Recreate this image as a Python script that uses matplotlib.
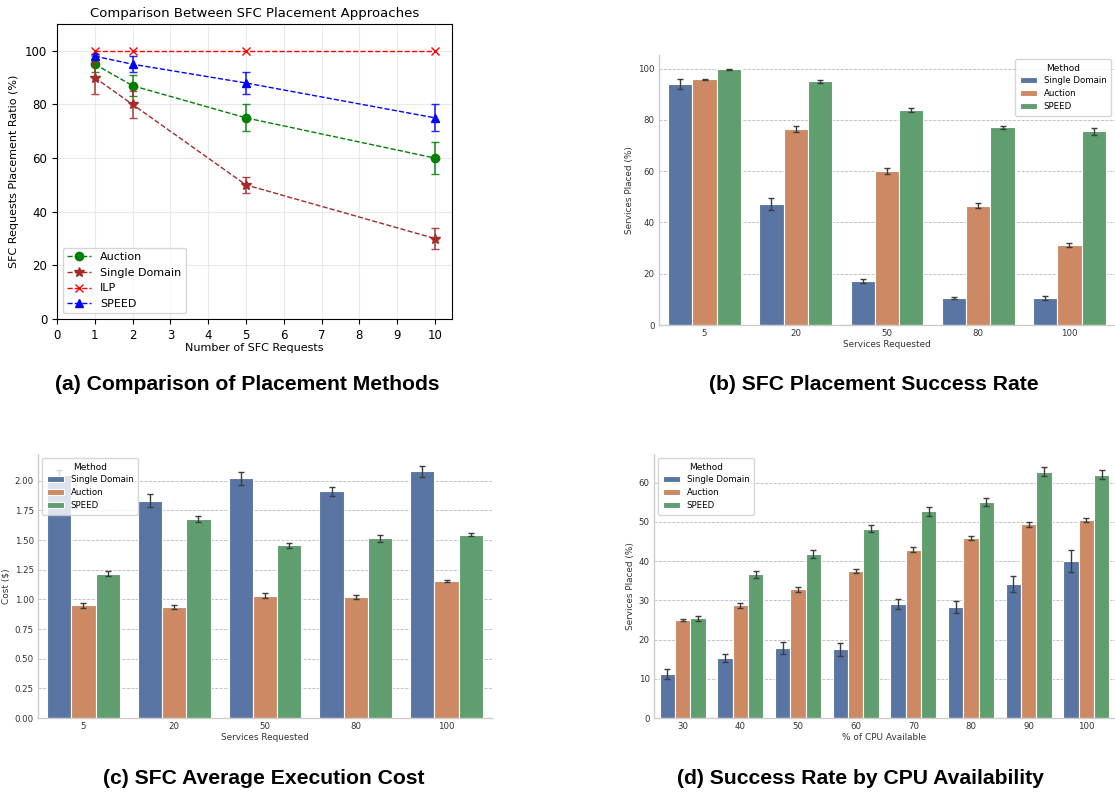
import matplotlib
matplotlib.use("Agg")
import matplotlib.pyplot as plt
import numpy as np

W, H = 1115, 794

# ---- (a) line plot data
req_counts = [1, 2, 5, 10]
auction_ratio = [95, 87, 75, 60]
auction_ratio_err = [3, 4, 5, 6]
single_ratio = [90, 80, 50, 30]
single_ratio_err = [6, 5, 3, 4]
ilp_ratio = [100, 100, 100, 100]
speed_ratio = [98, 95, 88, 75]
speed_ratio_err = [1, 3, 4, 5]

# ---- (b) success rate
methods = ["Single Domain", "Auction", "SPEED"]
services = ["5", "20", "50", "80", "100"]
succ_single = [94, 47.2, 17.2, 10.6, 10.5]
succ_auction = [95.8, 76.5, 59.9, 46.5, 31.2]
succ_speed = [99.8, 95, 83.8, 77.1, 75.5]
succ_single_err = [1.8, 2.2, 0.7, 0.4, 0.7]
succ_auction_err = [0.3, 1.3, 1.2, 1.0, 0.8]
succ_speed_err = [0.2, 0.5, 0.7, 0.7, 1.4]

# ---- (c) cost
cost_single = [2.05, 1.83, 2.02, 1.91, 2.08]
cost_auction = [0.95, 0.935, 1.03, 1.02, 1.155]
cost_speed = [1.215, 1.675, 1.455, 1.515, 1.545]
cost_single_err = [0.04, 0.055, 0.055, 0.04, 0.045]
cost_auction_err = [0.02, 0.015, 0.02, 0.015, 0.008]
cost_speed_err = [0.02, 0.025, 0.02, 0.03, 0.015]

# ---- (d) CPU availability
cpu_levels = ["30", "40", "50", "60", "70", "80", "90", "100"]
cpu_single = [11.3, 15.2, 17.9, 17.5, 29.0, 28.2, 34.1, 40.0]
cpu_auction = [25.0, 28.7, 32.8, 37.4, 42.9, 46.0, 49.4, 50.5]
cpu_speed = [25.4, 36.7, 41.8, 48.3, 52.7, 55.0, 62.8, 62.0]
cpu_single_err = [1.3, 1.0, 1.5, 1.6, 1.3, 1.5, 2.0, 2.8]
cpu_auction_err = [0.3, 0.6, 0.6, 0.5, 0.6, 0.5, 0.6, 0.5]
cpu_speed_err = [0.6, 0.9, 0.9, 0.9, 1.2, 1.0, 1.2, 1.2]

bar_colors = ["#5975a4", "#cc8963", "#5f9e6e"]


def rect(left, top, right, bottom):
    return [left / W, 1 - bottom / H, (right - left) / W, (bottom - top) / H]


def grouped_bars(ax, cats, series, errs, ylim, yticks, ylabel, xlabel, legend_loc, fmt=None):
    x = np.arange(len(cats))
    w = 0.8 / 3
    for i, (vals, err) in enumerate(zip(series, errs)):
        ax.bar(x + (i - 1) * w, vals, width=w, color=bar_colors[i], edgecolor="white",
               linewidth=0.8, label=methods[i], zorder=2)
        ax.errorbar(x + (i - 1) * w, vals, yerr=err, fmt="none", ecolor="#3d3d3d",
                    elinewidth=1.0, capsize=2, capthick=1.0, zorder=3)
    ax.set_xlim(-0.5, len(cats) - 0.5)
    ax.set_ylim(*ylim)
    ax.set_xticks(x)
    ax.set_xticklabels(cats)
    ax.set_yticks(yticks)
    if fmt:
        ax.set_yticklabels([fmt % v for v in yticks])
    ax.yaxis.grid(True, linestyle="--", color="#bbbbbb", linewidth=0.6, zorder=0)
    ax.set_axisbelow(True)
    for s in ["top", "right"]:
        ax.spines[s].set_visible(False)
    for s in ["left", "bottom"]:
        ax.spines[s].set_color("#cccccc")
        ax.spines[s].set_linewidth(1.0)
    ax.tick_params(length=0, labelsize=6.2, colors="#333333", pad=3)
    ax.set_ylabel(ylabel, fontsize=6.4, color="#333333", labelpad=3)
    ax.set_xlabel(xlabel, fontsize=6.4, color="#333333", labelpad=1)
    leg = ax.legend(title="Method", loc=legend_loc, fontsize=6.2, title_fontsize=6.5,
                    frameon=True, borderpad=0.5, labelspacing=0.45)
    leg.get_frame().set_edgecolor("#cccccc")


fig = plt.figure(figsize=(W / 100, H / 100), dpi=100)

# (a) lines first (for the legend), error bars on top without labels
ax = fig.add_axes(rect(57, 24, 452, 319))
line_series = [
    (auction_ratio, auction_ratio_err, "o", "green", "Auction", 6),
    (single_ratio, single_ratio_err, "*", "brown", "Single Domain", 7),
    (ilp_ratio, None, "x", "red", "ILP", 6),
    (speed_ratio, speed_ratio_err, "^", "blue", "SPEED", 6),
]
for vals, err, mk, col, lab, ms in line_series:
    ax.plot(req_counts, vals, linestyle="--", marker=mk, color=col, linewidth=1,
            markersize=ms, label=lab)
    if err is not None:
        ax.errorbar(req_counts, vals, yerr=err, fmt="none", ecolor=col, elinewidth=1.2,
                    capsize=3, alpha=0.85)
ax.set_xlim(0, 10.45)
ax.set_ylim(0, 110)
ax.set_xticks(range(0, 11))
ax.set_yticks(range(0, 101, 20))
ax.grid(True, color="#dddddd", linewidth=0.8, alpha=0.6)
ax.tick_params(labelsize=8.5)
ax.set_title("Comparison Between SFC Placement Approaches", fontsize=9.5, pad=5)
ax.set_xlabel("Number of SFC Requests", fontsize=8, labelpad=1)
ax.set_ylabel("SFC Requests Placement Ratio (%)", fontsize=8)
ax.legend(loc="lower left", fontsize=8, handlelength=2.2)

# (b)
ax = fig.add_axes(rect(659, 55, 1115, 325))
grouped_bars(ax, services, [succ_single, succ_auction, succ_speed],
             [succ_single_err, succ_auction_err, succ_speed_err],
             (0, 105.3), range(0, 101, 20), "Services Placed (%)", "Services Requested",
             "upper right")

# (c)
ax = fig.add_axes(rect(38, 454, 492, 718))
grouped_bars(ax, services, [cost_single, cost_auction, cost_speed],
             [cost_single_err, cost_auction_err, cost_speed_err],
             (0, 2.225), np.arange(0, 2.01, 0.25), "Cost ($)", "Services Requested",
             "upper left", fmt="%.2f")

# (d)
ax = fig.add_axes(rect(654, 454, 1115, 718))
grouped_bars(ax, cpu_levels, [cpu_single, cpu_auction, cpu_speed],
             [cpu_single_err, cpu_auction_err, cpu_speed_err],
             (0, 67.3), range(0, 61, 10), "Services Placed (%)", "% of CPU Available",
             "upper left")

# captions
cap_kw = dict(fontsize=15.2, fontweight="bold", family=["Liberation Sans", "DejaVu Sans"],
              ha="center", va="center")
fig.text(247 / W, 1 - 385 / H, "(a) Comparison of Placement Methods", **cap_kw)
fig.text(874 / W, 1 - 385 / H, "(b) SFC Placement Success Rate", **cap_kw)
fig.text(264 / W, 1 - 779 / H, "(c) SFC Average Execution Cost", **cap_kw)
fig.text(860 / W, 1 - 779 / H, "(d) Success Rate by CPU Availability", **cap_kw)

fig.savefig("out.png", dpi=100)
